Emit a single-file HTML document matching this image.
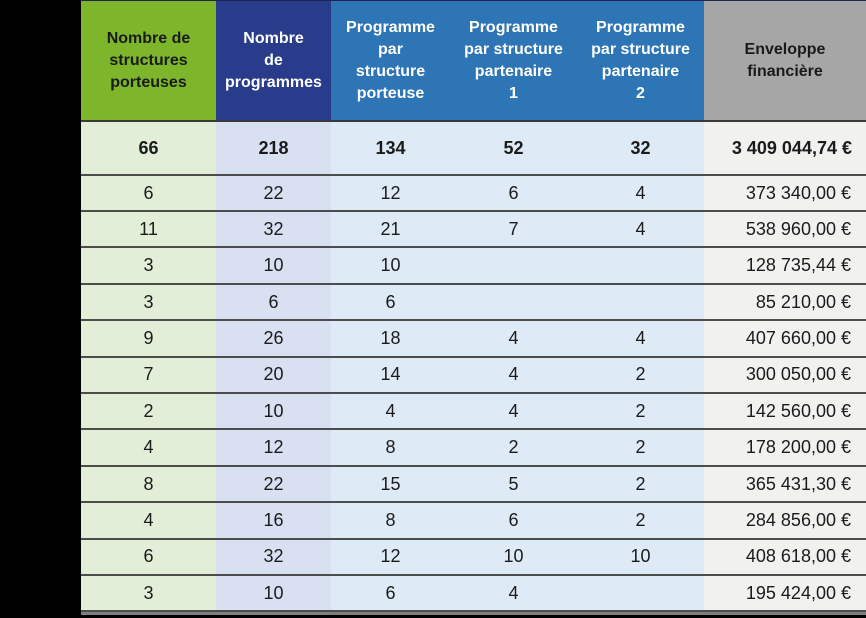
<!DOCTYPE html>
<html><head><meta charset="utf-8">
<style>
html,body{margin:0;padding:0;background:#000;}
#w{position:relative;width:866px;height:618px;overflow:hidden;background:#000;font-family:"Liberation Sans",sans-serif;}
.b{position:absolute;}
.h{position:absolute;top:1px;height:120px;display:flex;align-items:center;justify-content:center;text-align:center;font-weight:bold;font-size:16px;line-height:22px;}
.c{position:absolute;height:36px;display:flex;align-items:center;justify-content:center;font-size:18px;color:#1b1b1b;}
.r{justify-content:flex-end;}
.ln{position:absolute;left:81px;width:785px;height:2px;background:#4d4d4d;}
</style></head><body><div id="w">
<div class="b" style="left:81px;top:1px;width:135px;height:120px;background:#7db62a"></div>
<div class="b" style="left:216px;top:1px;width:115px;height:120px;background:#293b8b"></div>
<div class="b" style="left:331px;top:1px;width:373px;height:120px;background:#2e75b6"></div>
<div class="b" style="left:704px;top:1px;width:162px;height:120px;background:#a6a6a6"></div>
<div class="b" style="left:81px;top:0;width:785px;height:1px;background:#1d2550"></div>
<div class="b" style="left:81px;top:122px;width:135px;height:490px;background:#e3eed9"></div>
<div class="b" style="left:216px;top:122px;width:115px;height:490px;background:#d9e0f1"></div>
<div class="b" style="left:331px;top:122px;width:373px;height:490px;background:#deeaf6"></div>
<div class="b" style="left:704px;top:122px;width:162px;height:490px;background:#f1f1f0"></div>
<div class="b" style="left:81px;top:612px;width:785px;height:3px;background:#7f7f7f"></div>
<div class="h" style="left:81px;width:135px;color:#1a1a1a">Nombre de<br>structures<br>porteuses</div>
<div class="h" style="left:216px;width:115px;color:#fff">Nombre<br>de<br>programmes</div>
<div class="h" style="left:331px;width:119px;color:#fff">Programme<br>par<br>structure<br>porteuse</div>
<div class="h" style="left:450px;width:127px;color:#fff">Programme<br>par structure<br>partenaire<br>1</div>
<div class="h" style="left:577px;width:127px;color:#fff">Programme<br>par structure<br>partenaire<br>2</div>
<div class="h" style="left:704px;width:162px;color:#1a1a1a">Enveloppe<br>financière</div>
<div class="ln" style="top:120px;background:#3a3a3a"></div>
<div class="ln" style="top:174px"></div>
<div class="ln" style="top:210px"></div>
<div class="ln" style="top:246px"></div>
<div class="ln" style="top:283px"></div>
<div class="ln" style="top:319px"></div>
<div class="ln" style="top:356px"></div>
<div class="ln" style="top:392px"></div>
<div class="ln" style="top:428px"></div>
<div class="ln" style="top:465px"></div>
<div class="ln" style="top:501px"></div>
<div class="ln" style="top:538px"></div>
<div class="ln" style="top:574px"></div>
<div class="ln" style="top:610px"></div>
<div class="c" style="top:130px;left:81px;width:135px;font-weight:bold">66</div>
<div class="c" style="top:130px;left:216px;width:115px;font-weight:bold">218</div>
<div class="c" style="top:130px;left:331px;width:119px;font-weight:bold">134</div>
<div class="c" style="top:130px;left:450px;width:127px;font-weight:bold">52</div>
<div class="c" style="top:130px;left:577px;width:127px;font-weight:bold">32</div>
<div class="c r" style="top:130px;left:704px;width:148px;font-weight:bold">3 409 044,74 €</div>

<div class="c" style="top:175px;left:81px;width:135px">6</div>
<div class="c" style="top:175px;left:216px;width:115px">22</div>
<div class="c" style="top:175px;left:331px;width:119px">12</div>
<div class="c" style="top:175px;left:450px;width:127px">6</div>
<div class="c" style="top:175px;left:577px;width:127px">4</div>
<div class="c r" style="top:175px;left:704px;width:147px">373 340,00 €</div>

<div class="c" style="top:211px;left:81px;width:135px">11</div>
<div class="c" style="top:211px;left:216px;width:115px">32</div>
<div class="c" style="top:211px;left:331px;width:119px">21</div>
<div class="c" style="top:211px;left:450px;width:127px">7</div>
<div class="c" style="top:211px;left:577px;width:127px">4</div>
<div class="c r" style="top:211px;left:704px;width:147px">538 960,00 €</div>

<div class="c" style="top:247px;left:81px;width:135px">3</div>
<div class="c" style="top:247px;left:216px;width:115px">10</div>
<div class="c" style="top:247px;left:331px;width:119px">10</div>
<div class="c r" style="top:247px;left:704px;width:147px">128 735,44 €</div>

<div class="c" style="top:284px;left:81px;width:135px">3</div>
<div class="c" style="top:284px;left:216px;width:115px">6</div>
<div class="c" style="top:284px;left:331px;width:119px">6</div>
<div class="c r" style="top:284px;left:704px;width:147px">85 210,00 €</div>

<div class="c" style="top:320px;left:81px;width:135px">9</div>
<div class="c" style="top:320px;left:216px;width:115px">26</div>
<div class="c" style="top:320px;left:331px;width:119px">18</div>
<div class="c" style="top:320px;left:450px;width:127px">4</div>
<div class="c" style="top:320px;left:577px;width:127px">4</div>
<div class="c r" style="top:320px;left:704px;width:147px">407 660,00 €</div>

<div class="c" style="top:356px;left:81px;width:135px">7</div>
<div class="c" style="top:356px;left:216px;width:115px">20</div>
<div class="c" style="top:356px;left:331px;width:119px">14</div>
<div class="c" style="top:356px;left:450px;width:127px">4</div>
<div class="c" style="top:356px;left:577px;width:127px">2</div>
<div class="c r" style="top:356px;left:704px;width:147px">300 050,00 €</div>

<div class="c" style="top:393px;left:81px;width:135px">2</div>
<div class="c" style="top:393px;left:216px;width:115px">10</div>
<div class="c" style="top:393px;left:331px;width:119px">4</div>
<div class="c" style="top:393px;left:450px;width:127px">4</div>
<div class="c" style="top:393px;left:577px;width:127px">2</div>
<div class="c r" style="top:393px;left:704px;width:147px">142 560,00 €</div>

<div class="c" style="top:429px;left:81px;width:135px">4</div>
<div class="c" style="top:429px;left:216px;width:115px">12</div>
<div class="c" style="top:429px;left:331px;width:119px">8</div>
<div class="c" style="top:429px;left:450px;width:127px">2</div>
<div class="c" style="top:429px;left:577px;width:127px">2</div>
<div class="c r" style="top:429px;left:704px;width:147px">178 200,00 €</div>

<div class="c" style="top:466px;left:81px;width:135px">8</div>
<div class="c" style="top:466px;left:216px;width:115px">22</div>
<div class="c" style="top:466px;left:331px;width:119px">15</div>
<div class="c" style="top:466px;left:450px;width:127px">5</div>
<div class="c" style="top:466px;left:577px;width:127px">2</div>
<div class="c r" style="top:466px;left:704px;width:147px">365 431,30 €</div>

<div class="c" style="top:502px;left:81px;width:135px">4</div>
<div class="c" style="top:502px;left:216px;width:115px">16</div>
<div class="c" style="top:502px;left:331px;width:119px">8</div>
<div class="c" style="top:502px;left:450px;width:127px">6</div>
<div class="c" style="top:502px;left:577px;width:127px">2</div>
<div class="c r" style="top:502px;left:704px;width:147px">284 856,00 €</div>

<div class="c" style="top:538px;left:81px;width:135px">6</div>
<div class="c" style="top:538px;left:216px;width:115px">32</div>
<div class="c" style="top:538px;left:331px;width:119px">12</div>
<div class="c" style="top:538px;left:450px;width:127px">10</div>
<div class="c" style="top:538px;left:577px;width:127px">10</div>
<div class="c r" style="top:538px;left:704px;width:147px">408 618,00 €</div>

<div class="c" style="top:575px;left:81px;width:135px">3</div>
<div class="c" style="top:575px;left:216px;width:115px">10</div>
<div class="c" style="top:575px;left:331px;width:119px">6</div>
<div class="c" style="top:575px;left:450px;width:127px">4</div>
<div class="c r" style="top:575px;left:704px;width:147px">195 424,00 €</div>
</div></body></html>
